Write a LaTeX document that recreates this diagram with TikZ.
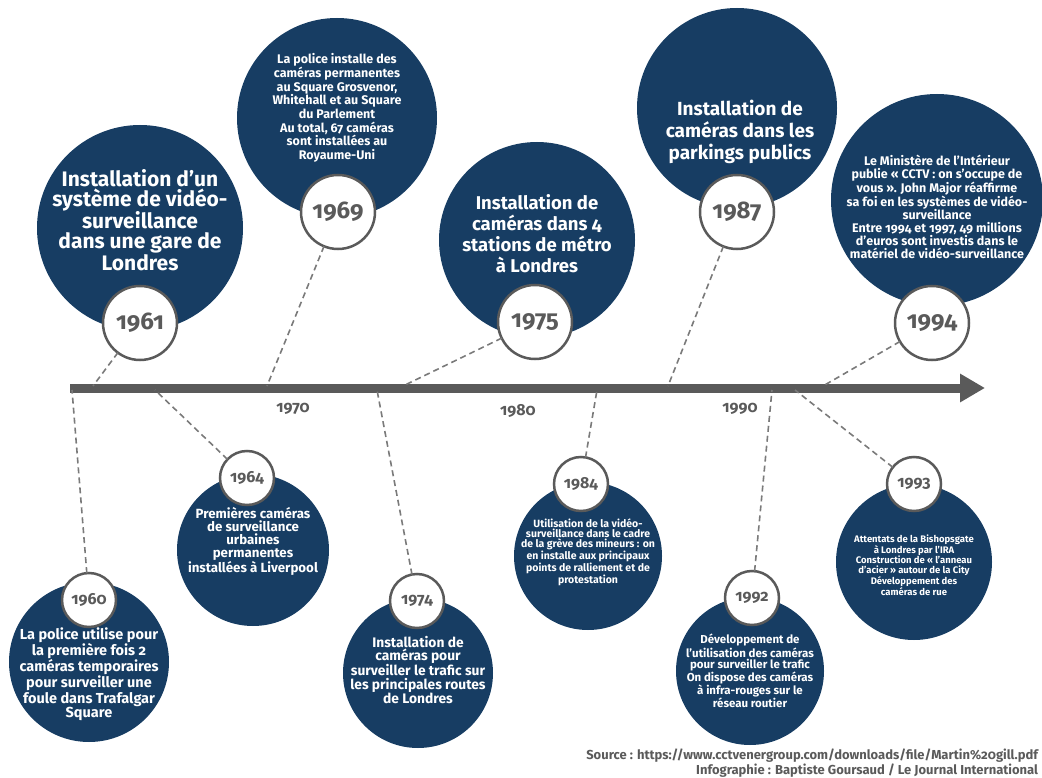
\documentclass[tikz,border=0pt]{standalone}
\usepackage{fontspec}
\setmainfont{Fira Sans}[Numbers=OldStyle]
\usetikzlibrary{arrows.meta}
\definecolor{navy}{HTML}{173D63}
\definecolor{axisgray}{HTML}{5A5A5A}
\definecolor{dashgray}{HTML}{7A7A7A}

\begin{document}
\begin{tikzpicture}[x=1pt,y=-1pt,inner sep=0pt,outer sep=0pt,
bigdot/.style={circle,fill=navy,minimum size=#1},
yeardot/.style={circle,draw=axisgray,line width=2.5pt,fill=white,minimum size=#1,text=axisgray},
evtxt/.style 2 args={text=white,align=center,font=\bfseries\fontsize{#1}{#2}\selectfont},
link/.style={draw=dashgray,line width=1.6pt,dash pattern=on 6pt off 4pt},
decade/.style={text=axisgray,font=\bfseries\fontsize{16}{18}\selectfont}]
\useasboundingbox (0,0) rectangle (1042,778);

% axis
\coordinate (A0) at (70,388);
\coordinate (A1) at (985,388);
\draw[line width=9pt,draw=axisgray,-{Triangle[length=25pt,width=27pt]}] (A0) -- (A1);
\node[decade] (D70) at (293,409) {1970};
\node[decade] (D80) at (518,411) {1980};
\node[decade] (D90) at (740,409) {1990};

% points on the axis
\coordinate (a60) at (72,390);
\coordinate (a61) at (93,386);
\coordinate (a64) at (155,390);
\coordinate (a69) at (267,386);
\coordinate (a74) at (377,390);
\coordinate (a75) at (403,386);
\coordinate (a84) at (597,390);
\coordinate (a87) at (668,386);
\coordinate (a92) at (772,390);
\coordinate (a93) at (795,390);
\coordinate (a94) at (823,386);

% events above the axis
\node[bigdot=206pt] (B61) at (140,228) {};
\node[evtxt={21}{20}] (T61) at (140,220) {Installation d'un\\système de vidéo-\\surveillance\\dans une gare de\\Londres};
\node[bigdot=200pt] (B69) at (337,118) {};
\node[evtxt={12.5}{13.7}] (T69) at (337,108) {La police installe des\\caméras permanentes\\au Square Grosvenor,\\Whitehall et au Square\\du Parlement\\Au total, 67 caméras\\sont installées au\\Royaume-Uni};
\node[bigdot=196pt] (B75) at (537,240) {};
\node[evtxt={18.5}{21}] (T75) at (537,234) {Installation de\\caméras dans 4\\stations de métro\\à Londres};
\node[bigdot=200pt] (B87) at (737,108) {};
\node[evtxt={19}{22}] (T87) at (740,132) {Installation de\\caméras dans les\\parkings publics};
\node[bigdot=212pt] (B94) at (937,200) {};
\node[evtxt={12.5}{13}] (T94) at (937,207) {Le Ministère de l'Intérieur\\publie « CCTV : on s'occupe de\\vous ». John Major réaffirme\\sa foi en les systèmes de vidéo-\\surveillance\\Entre 1994 et 1997, 49 millions\\d'euros sont investis dans le\\matériel de vidéo-surveillance};

% events below the axis
\node[bigdot=160pt] (B60) at (89,662) {};
\node[evtxt={14.5}{14}] (T60) at (89,674) {La police utilise pour\\la première fois 2\\caméras temporaires\\pour surveiller une\\foule dans Trafalgar\\Square};
\node[bigdot=152pt] (B64) at (253,550) {};
\node[evtxt={13.3}{13}] (T64) at (253,541) {Premières caméras\\de surveillance\\urbaines\\permanentes\\installées à Liverpool};
\node[bigdot=150pt] (B74) at (418,673) {};
\node[evtxt={13.8}{13.3}] (T74) at (418,670) {Installation de\\caméras pour\\surveiller le trafic sur\\les principales routes\\de Londres};
\node[bigdot=148pt] (B84) at (588,556) {};
\node[evtxt={10.5}{10.3}] (T84) at (588,552) {Utilisation de la vidéo-\\surveillance dans le cadre\\de la grève des mineurs : on\\en installe aux principaux\\points de ralliement et de\\protestation};
\node[bigdot=148pt] (B92) at (750,671) {};
\node[evtxt={11.5}{11}] (T92) at (750,671) {Développement de\\l'utilisation des caméras\\pour surveiller le trafic\\On dispose des caméras\\à infra-rouges sur le\\réseau routier};
\node[bigdot=156pt] (B93) at (914,562) {};
\node[evtxt={9.5}{10}] (T93) at (914,565) {Attentats de la Bishopsgate\\à Londres par l'IRA\\Construction de « l'anneau\\d'acier » autour de la City\\Développement des\\caméras de rue};

% year badges
\foreach \n/\x/\y in {61/140/323,69/338/212,75/535/322,87/737/212,94/932/323}
  \node[yeardot=74pt,font=\bfseries\fontsize{24}{26}\selectfont] (Y\n) at (\x,\y) {19\n};
\foreach \n/\x/\y in {60/89/600,64/247/478,74/417/601,84/581/484,92/752/598,93/914/484}
  \node[yeardot=54pt,font=\bfseries\fontsize{16}{18}\selectfont] (Y\n) at (\x,\y) {19\n};

% dashed links
\foreach \n in {60,61,64,69,74,75,84,87,92,93,94}
  \draw[link] (Y\n) -- (a\n);

% credits
\node[anchor=south east,align=right,text=axisgray,font=\bfseries\fontsize{13}{12.5}\selectfont] (SRC) at (1038,777) {Source : https://www.cctvenergroup.com/downloads/file/Martin\%20gill.pdf\\Infographie : Baptiste Goursaud / Le Journal International};
\end{tikzpicture}
\end{document}
